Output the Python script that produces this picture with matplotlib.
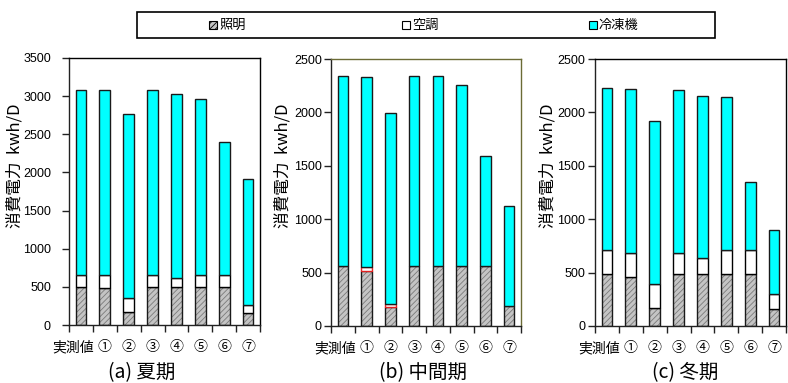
import matplotlib
matplotlib.use("Agg")
import matplotlib.pyplot as plt
from matplotlib.patches import Rectangle
from matplotlib.transforms import ScaledTranslation
from matplotlib import font_manager
import numpy as np

plt.rcParams['font.family'] = ['Noto Sans CJK JP', 'DejaVu Sans']
plt.rcParams['hatch.linewidth'] = 0.6

categories = ['実測値', '①', '②', '③', '④', '⑤', '⑥', '⑦']
series_names = ['照明', '空調', '冷凍機']

# 夏期
summer_light = [500, 490, 170, 500, 500, 500, 500, 155]
summer_ac = [160, 170, 180, 160, 110, 160, 160, 105]
summer_chiller = [2425, 2425, 2420, 2425, 2420, 2305, 1745, 1655]

# 中間期
mid_light = [560, 515, 180, 560, 560, 560, 560, 185]
mid_ac = [0, 40, 30, 0, 0, 0, 0, 0]
mid_chiller = [1780, 1775, 1780, 1780, 1780, 1695, 1035, 935]

# 冬期
winter_light = [485, 460, 170, 485, 485, 485, 485, 160]
winter_ac = [225, 225, 225, 200, 150, 225, 225, 135]
winter_chiller = [1520, 1535, 1525, 1525, 1520, 1430, 635, 605]

titles = ['(a) 夏期', '(b) 中間期', '(c) 冬期']
ymaxes = [3500, 2500, 2500]
ysteps = [500, 500, 500]

W, H = 788, 383
fig = plt.figure(figsize=(W / 100, H / 100), dpi=100)

CYAN = '#00ffff'
GRAY = '#c4c4c4'
EDGE = '#1a1a1a'
OLIVE = '#6b6b35'

installed = {f.name for f in font_manager.fontManager.ttflist}
if 'Liberation Sans Narrow' in installed:
    num_font, num_size = ['Liberation Sans Narrow'], 10.5
else:
    num_font, num_size = ['Liberation Sans', 'DejaVu Sans'], 9
tick_font = ['Noto Sans CJK JP', 'DejaVu Sans']

panels = [
    (69, 58, 260, 325, summer_light, summer_ac, summer_chiller, 'black', 'black'),
    (331, 59, 521, 326, mid_light, mid_ac, mid_chiller, OLIVE, '#e02020'),
    (595, 59, 786, 326, winter_light, winter_ac, winter_chiller, 'black', 'black'),
]
ylabel_x = [15, 283, 548]
ytick_pad = [8, 1.5, 2]
title_x = [142, 423, 685]

for i, (x0, y0, x1, y1, light, ac, chil, frame_c, ac_edge) in enumerate(panels):
    ax = fig.add_axes([x0 / W, 1 - y1 / H, (x1 - x0) / W, (y1 - y0) / H])
    x = np.arange(len(categories))
    light = np.array(light)
    ac = np.array(ac)
    chil = np.array(chil)
    bw = 0.45
    # lighting: hatched gray
    ax.bar(x, light, bw, color=GRAY, edgecolor='#7a7a7a', hatch='//////',
           linewidth=0, zorder=2)
    ax.bar(x, light, bw, fill=False, edgecolor=EDGE, linewidth=1.0, zorder=3)
    # air conditioning: white
    mask = ac > 0
    ax.bar(x[mask], ac[mask], bw, bottom=light[mask], color='white',
           edgecolor=ac_edge, linewidth=1.0, zorder=3)
    # chiller: cyan
    ax.bar(x, chil, bw, bottom=light + ac, color=CYAN, edgecolor=EDGE,
           linewidth=1.0, zorder=3)

    ax.set_xlim(-0.5, len(categories) - 0.5)
    ax.set_ylim(0, ymaxes[i])
    ax.set_yticks(np.arange(0, ymaxes[i] + 1, ysteps[i]))
    for lab in ax.get_yticklabels():
        lab.set_fontfamily(num_font)
        lab.set_fontsize(num_size)
    ax.tick_params(axis='y', direction='out', length=5, width=1,
                   pad=ytick_pad[i], color='#222222')

    ax.set_xticks(np.arange(-0.5, len(categories)), minor=False)
    ax.set_xticklabels([])
    ax.set_xticks(x, minor=True)
    ax.set_xticklabels(categories, minor=True, fontsize=10, family=tick_font)
    ax.tick_params(axis='x', which='major', direction='out', length=5, width=1,
                   color='#222222')
    ax.tick_params(axis='x', which='minor', length=0, pad=11)
    first = ax.xaxis.get_minorticklabels()[0]
    first.set_transform(first.get_transform() +
                        ScaledTranslation(-8 / 100, 0, fig.dpi_scale_trans))

    for side, s in ax.spines.items():
        s.set_linewidth(1.0)
        s.set_color('#222222' if side in ('left', 'bottom') else frame_c)

    fig.text(ylabel_x[i] / W, 1 - 166 / H, '消費電力  kwh/D', rotation=90,
             ha='center', va='center', fontsize=12)
    fig.text(title_x[i] / W, 1 - 373 / H, titles[i], ha='center',
             va='center', fontsize=14)

# legend box across the top
fig.add_artist(Rectangle((137 / W, 1 - 38 / H), (715 - 137) / W, 26 / H,
                         transform=fig.transFigure, fill=False,
                         edgecolor='black', linewidth=1.2))
leg_y = 1 - 25 / H
msz = 8
marker_x = [213, 406, 593]
styles = [dict(facecolor=GRAY, hatch='//////'), dict(facecolor='white'),
          dict(facecolor=CYAN)]
for mx, name, st in zip(marker_x, series_names, styles):
    fig.add_artist(Rectangle(((mx - msz / 2) / W, leg_y - msz / 2 / H),
                             msz / W, msz / H, transform=fig.transFigure,
                             edgecolor='black', linewidth=0.8, **st))
    fig.text((mx + msz / 2 + 2) / W, leg_y, name, ha='left', va='center',
             fontsize=9.5)

fig.savefig('out.png', dpi=100)
